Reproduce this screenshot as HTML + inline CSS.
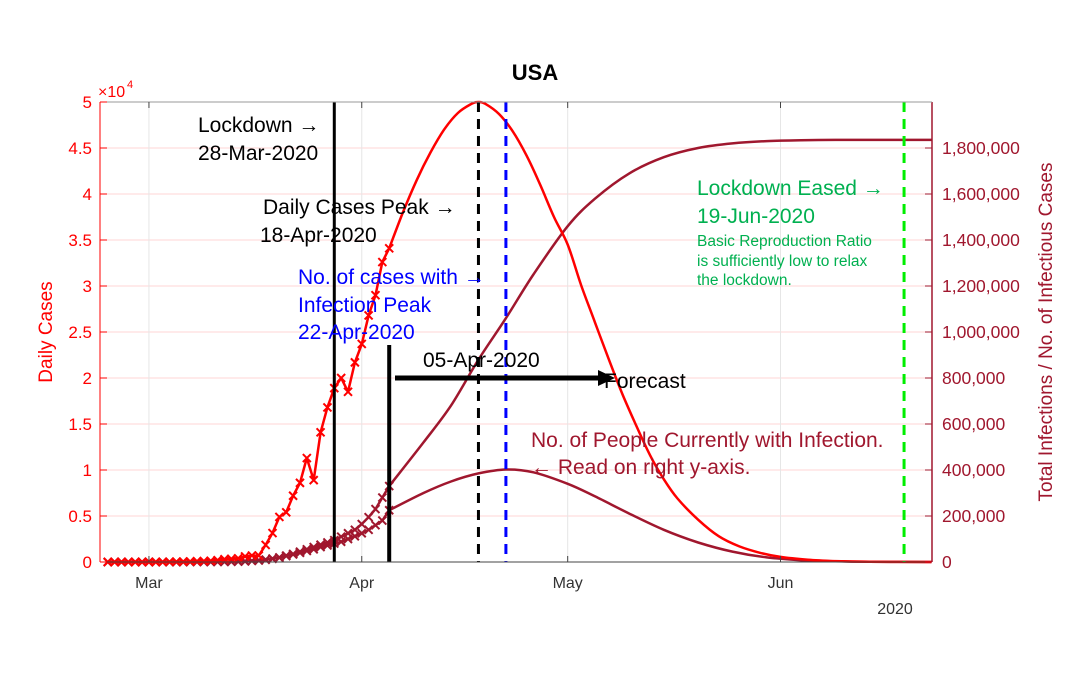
<!DOCTYPE html>
<html><head><meta charset="utf-8"><style>
html,body{margin:0;padding:0;background:#fff;}
svg{display:block;font-family:"Liberation Sans",Arial,sans-serif;}
</style></head><body>
<svg id="chart" width="1080" height="675" viewBox="0 0 1080 675" xmlns="http://www.w3.org/2000/svg" style="position:absolute;left:0;top:0">
<g id="grid"></g>
<g id="marks"></g>
<g id="annot"></g>
<g id="axes"></g>
</svg>
<script>
// Day index: 0 = 1-Mar-2020
const dailyObsDays = [-6,-5,-4,-3,-2,-1,0,1,2,3,4,5,6,7,8,9,10,11,12,13,14,15,16,17,18,19,20,21,22,23,24,25,26,27,28,29,30,31,32,33,34,35];
const dailyObsVals = [0,0,0,0,0,0,0,0,10,20,30,40,60,80,100,130,200,300,350,400,600,700,700,1850,3150,4900,5400,7200,8600,11300,8900,14100,16800,18900,20000,18500,21700,23700,26800,29000,32600,34100];
const dailyFcDays = [35,37,39,41,43,45,47,48,49,51,53,55,57,59,61,63,65,67,69,71,73,75,77,80,83,86,89,92,96,100,105,114];
const dailyFcVals = [34100,38000,41500,44500,47000,48800,49800,50000,49800,48700,46800,44200,41000,37500,34500,30000,26000,22000,18200,14800,11600,9000,6900,4600,2800,1700,1000,550,250,100,30,0];
const cumObsDays = [-6,-5,-4,-3,-2,-1,0,1,2,3,4,5,6,7,8,9,10,11,12,13,14,15,16,17,18,19,20,21,22,23,24,25,26,27,28,29,30,31,32,33,34,35];
const cumObsVals = [0,0,0,0,0,0,0,0,0,0,0,0,100,200,300,500,700,1000,1500,2200,3000,5000,7000,10000,15000,20000,28000,35000,45000,55000,65000,75000,85000,95000,110000,125000,140000,165000,195000,230000,280000,330000];
const cumFcDays = [35,40,44,48,52,56,61,65,70,75,80,85,90,95,100,105,114];
const cumFcVals = [330000,520000,680000,880000,1060000,1250000,1460000,1580000,1690000,1760000,1800000,1820000,1830000,1834000,1835000,1835000,1835000];
const actObsVals = [0,0,0,0,0,0,0,0,0,0,0,0,100,200,300,500,700,1000,1500,2200,3000,5000,7000,10000,14000,19000,26000,33000,40000,48000,55000,65000,72000,80000,88000,100000,112000,125000,140000,160000,180000,225000];
const actFcDays = [35,40,44,48,52,56,61,65,70,75,80,85,90,95,100,105,114];
const actFcVals = [225000,300000,350000,385000,402000,390000,340000,285000,210000,140000,85000,45000,20000,8000,3000,1000,0];
const leftTicks = [0,0.5,1,1.5,2,2.5,3,3.5,4,4.5,5];
const rightTicks = [0,200000,400000,600000,800000,1000000,1200000,1400000,1600000,1800000];
const monthDays = [0,31,61,92];
const monthLabels = ["Mar","Apr","May","Jun"];

const X0=100,X1=932,Y0=562,Y1=102, dMin=-7.13, dMax=114.07;
const xs=d=>X0+(d-dMin)/(dMax-dMin)*(X1-X0);
const yl=v=>Y0-v/50000*(Y0-Y1);
const yr=v=>Y0-v/2000000*(Y0-Y1);
const NS="http://www.w3.org/2000/svg";
const DR='#a0172e';
function mk(tag,attrs,parent,text){const e=document.createElementNS(NS,tag);for(const k in attrs)e.setAttribute(k,attrs[k]);if(text!==undefined)e.textContent=text;document.getElementById(parent).appendChild(e);return e;}

leftTicks.forEach(t=>{if(t>0&&t<5){const g=mk('line',{x1:X0,x2:X1,y1:yl(t*10000),y2:yl(t*10000),stroke:'#ffd6d6','stroke-width':1},'grid');

}});
monthDays.forEach(d=>{const g=mk('line',{x1:xs(d),x2:xs(d),y1:Y1,y2:Y0,stroke:'#e6e6e6','stroke-width':1},'grid');

});

function smoothPath(pts){let d=`M${pts[0][0]},${pts[0][1]}`;for(let i=0;i<pts.length-1;i++){const p0=pts[i-1]||pts[i],p1=pts[i],p2=pts[i+1],p3=pts[i+2]||p2;
const c1=[p1[0]+(p2[0]-p0[0])/6,p1[1]+(p2[1]-p0[1])/6],c2=[p2[0]-(p3[0]-p1[0])/6,p2[1]-(p3[1]-p1[1])/6];
d+=`C${c1[0].toFixed(1)},${c1[1].toFixed(1)} ${c2[0].toFixed(1)},${c2[1].toFixed(1)} ${p2[0].toFixed(1)},${p2[1].toFixed(1)}`;}return d;}
function curve(days,vals,yf,color,w,name){const pts=days.map((d,i)=>[xs(d),yf(vals[i])]);
const e=mk('path',{d:smoothPath(pts),fill:'none',stroke:color,'stroke-width':w},'marks');

}
function poly(days,vals,yf,color,w,name){const p=days.map((d,i)=>xs(d).toFixed(1)+','+yf(vals[i]).toFixed(1)).join(' ');
const e=mk('polyline',{points:p,fill:'none',stroke:color,'stroke-width':w,'stroke-linejoin':'round'},'marks');

}
function markers(days,vals,yf,color,name){days.forEach((d,i)=>{const x=xs(d),y=yf(vals[i]),s=4;
const e=mk('path',{d:`M${x-s},${y-s}L${x+s},${y+s}M${x-s},${y+s}L${x+s},${y-s}`,stroke:color,'stroke-width':2},'marks');

});}
curve(actFcDays,actFcVals,yr,DR,2.5,'active-infections-forecast');
poly(cumObsDays,actObsVals,yr,DR,2.5,'active-infections-observed');
markers(cumObsDays,actObsVals,yr,DR,'active-marker');
curve(cumFcDays,cumFcVals,yr,DR,2.5,'total-infections-forecast');
poly(cumObsDays,cumObsVals,yr,DR,2.5,'total-infections-observed');
markers(cumObsDays,cumObsVals,yr,DR,'total-marker');
curve(dailyFcDays,dailyFcVals,yl,'#ff0000',2.5,'daily-forecast-line');
poly(dailyObsDays,dailyObsVals,yl,'#ff0000',2.5,'daily-observed-line');
markers(dailyObsDays,dailyObsVals,yl,'#ff0000','daily-marker');

function vline(d,y1,color,w,dash,name){const e=mk('line',{x1:xs(d),x2:xs(d),y1:y1,y2:Y0,stroke:color,'stroke-width':w,'stroke-dasharray':dash||'none'},'annot');

}
vline(27,Y1,'#000',3,null,'lockdown-line');
vline(48,Y1,'#000',3,'10,7','daily-peak-line');
vline(52,Y1,'#0000ff',3,'10,7','infection-peak-line');
vline(110,Y1,'#00ee00',3,'10,7','lockdown-eased-line');
vline(35,345,'#000',4,null,'forecast-start-line');
</script>
<svg style="position:absolute;left:0;top:0" width="1080" height="675">
<g font-family="Liberation Sans, Arial, sans-serif">
<line x1="395" y1="378" x2="600" y2="378" stroke="#000" stroke-width="5"/>
<polygon points="598,370 615,378 598,386" fill="#000"/>
<text x="604" y="388" font-size="21" fill="#000">Forecast</text>
<text x="423" y="367" font-size="21" fill="#000">05-Apr-2020</text>
<text x="198" y="132" font-size="21" fill="#000">Lockdown →</text>
<text x="198" y="160" font-size="21" fill="#000">28-Mar-2020</text>
<text x="263" y="214" font-size="21" fill="#000">Daily Cases Peak →</text>
<text x="260" y="242" font-size="21" fill="#000">18-Apr-2020</text>
<text x="298" y="284" font-size="21" fill="#0000ff">No. of cases with →</text>
<text x="298" y="312" font-size="21" fill="#0000ff">Infection Peak</text>
<text x="298" y="339" font-size="21" fill="#0000ff">22-Apr-2020</text>
<text x="697" y="195" font-size="21" fill="#00b050">Lockdown Eased →</text>
<text x="697" y="223" font-size="21" fill="#00b050">19-Jun-2020</text>
<text x="697" y="246" font-size="15.5" fill="#00b050">Basic Reproduction Ratio</text>
<text x="697" y="266" font-size="15.5" fill="#00b050">is sufficiently low to relax</text>
<text x="697" y="285" font-size="15.5" fill="#00b050">the lockdown.</text>
<text x="531" y="447" font-size="21" fill="#a0172e">No. of People Currently with Infection.</text>
<text x="531" y="474" font-size="21" fill="#a0172e">← Read on right y-axis.</text>
<text x="535" y="80" font-size="22" font-weight="bold" text-anchor="middle" fill="#000">USA</text>
</g>
</svg>
<script>
(function(){
mk('line',{x1:X0,x2:X0,y1:Y1,y2:Y0,stroke:'#ff0000','stroke-width':1},'axes');
mk('line',{x1:X1,x2:X1,y1:Y1,y2:Y0,stroke:DR,'stroke-width':1.5},'axes');
mk('line',{x1:X0,x2:X1,y1:Y0,y2:Y0,stroke:'#444','stroke-width':1},'axes');
mk('line',{x1:X0,x2:X1,y1:Y1,y2:Y1,stroke:'#999','stroke-width':1},'axes');
leftTicks.forEach(t=>{const y=yl(t*10000);
mk('line',{x1:X0,x2:X0+7,y1:y,y2:y,stroke:'#ff0000'},'axes');
const e=mk('text',{x:X0-8,y:y+6,'text-anchor':'end','font-size':17,fill:'#ff0000'},'axes',String(t));

});
rightTicks.forEach(t=>{const y=yr(t);
mk('line',{x1:X1-7,x2:X1,y1:y,y2:y,stroke:DR},'axes');
const e=mk('text',{x:X1+10,y:y+6,'font-size':17.5,fill:DR},'axes',t.toLocaleString('en-US'));

});
monthDays.forEach((d,i)=>{
mk('line',{x1:xs(d),x2:xs(d),y1:Y0,y2:Y0-6,stroke:'#444'},'axes');
mk('line',{x1:xs(d),x2:xs(d),y1:Y1,y2:Y1+6,stroke:'#444'},'axes');
const e=mk('text',{x:xs(d),y:588,'text-anchor':'middle','font-size':16,fill:'#333'},'axes',monthLabels[i]);

});
let e=mk('text',{x:895,y:614,'text-anchor':'middle','font-size':16,fill:'#333'},'axes','2020');


e=mk('text',{x:98,y:97,'font-size':16,fill:'#ff0000'},'axes','×10');


mk('text',{x:127,y:88,'font-size':11,fill:'#ff0000'},'axes','4');
e=mk('text',{x:0,y:0,'font-size':19,fill:'#ff0000','text-anchor':'middle',transform:'translate(52,332) rotate(-90)'},'axes','Daily Cases');


e=mk('text',{x:0,y:0,'font-size':19,fill:DR,'text-anchor':'middle',transform:'translate(1052,332) rotate(-90)'},'axes','Total Infections / No. of Infectious Cases');


})();
</script>
</body></html>
